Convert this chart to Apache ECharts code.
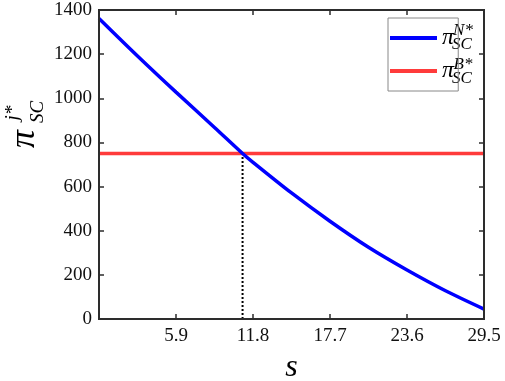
<!DOCTYPE html>
<html>
<head>
<meta charset="utf-8">
<script src="https://cdn.jsdelivr.net/npm/echarts@6/dist/echarts.min.js"></script>
<style>
  html, body { margin: 0; padding: 0; background: #fff; }
  #chart { width: 505px; height: 381px; }
</style>
</head>
<body>
<div id="chart"></div>
<script>
// s values and profit
var sValues = [0, 2.95, 5.9, 8.85, 11, 11.8, 14.75, 17.7, 20.65, 23.6, 26.55, 29.5];
var piN = [1362, 1192, 1028, 868, 750, 710, 571, 443, 325, 222, 128, 45];
var piB = 750;
var sCross = 11;
var xTickLabels = ['5.9', '11.8', '17.7', '23.6', '29.5'];
var xStep = 5.9, xMax = 29.5;
var yStep = 200, yMax = 1400;

var serif = 'Liberation Serif';
var frameColor = 'rgb(45,45,45)';
var chart = echarts.init(document.getElementById('chart'));

function line() { return { show: true, onZero: false, lineStyle: { color: frameColor, width: 2 } }; }
function tick() { return { show: true, inside: true, length: 5, lineStyle: { color: frameColor, width: 1.5 } }; }

chart.setOption({
  animation: false,
  grid: { left: 99, right: 21, top: 10, bottom: 62, containLabel: false, outerBoundsMode: 'none' },
  legend: {
    left: 388, top: 18,
    orient: 'vertical',
    padding: [8, 2, 8, 2],
    itemGap: 9,
    itemWidth: 47, itemHeight: 4,
    icon: 'rect',
    borderColor: '#888', borderWidth: 1,
    data: ['N', 'B'],
    formatter: function () { return '{p|π}{g| }'; },
    textStyle: {
      rich: {
        p: { fontFamily: serif, fontStyle: 'italic', fontSize: 24, lineHeight: 30, color: '#000' },
        g: { width: 6, fontSize: 8 }
      }
    }
  },
  xAxis: [{
    type: 'value', min: 0, max: xMax, interval: xStep,
    name: 's', nameLocation: 'middle', nameGap: 33,
    nameTextStyle: { fontFamily: serif, fontStyle: 'italic', fontSize: 32, color: '#000' },
    axisLine: line(), axisTick: tick(), splitLine: { show: false },
    axisLabel: {
      margin: 8, fontFamily: serif, fontSize: 19, color: '#111',
      formatter: function (v) { var i = Math.round(v / xStep) - 1; return i >= 0 ? xTickLabels[i] : ''; }
    }
  }, {
    type: 'value', gridIndex: 0, position: 'top', min: 0, max: xMax, interval: xStep,
    axisLine: line(), axisTick: tick(), axisLabel: { show: false }, splitLine: { show: false }
  }],
  yAxis: [{
    type: 'value', min: 0, max: yMax, interval: yStep,
    axisLine: line(), axisTick: tick(), splitLine: { show: false },
    axisLabel: { margin: 7, fontFamily: serif, fontSize: 19, color: '#111',
      formatter: function (v) { return String(v); } }
  }, {
    type: 'value', gridIndex: 0, position: 'right', min: 0, max: yMax, interval: yStep,
    axisLine: line(), axisTick: tick(), axisLabel: { show: false }, splitLine: { show: false }
  }],
  series: [{
    name: 'N', type: 'line', showSymbol: false, smooth: 0.3,
    color: '#0000ff', lineStyle: { width: 3.5 },
    data: sValues.map(function (s, i) { return [s, piN[i]]; }),
    z: 3
  }, {
    name: 'B', type: 'line', showSymbol: false,
    xAxisIndex: 1, yAxisIndex: 1,
    color: '#ff3b3b', lineStyle: { width: 3.5 },
    data: [[0, piB], [xMax, piB]],
    z: 2
  }, {
    name: 'drop', type: 'line', showSymbol: false,
    color: '#000', lineStyle: { width: 2, type: [2, 2] },
    data: [[sCross, 0], [sCross, piB]],
    z: 1
  }],
  graphic: [
    // y axis name with stacked sub/superscripts
    { type: 'text', x: 25, y: 139, rotation: Math.PI / 2,
      style: { text: 'π', font: 'italic 36px ' + serif, fill: '#000', align: 'center', verticalAlign: 'middle' } },
    { type: 'text', x: 38, y: 112, rotation: Math.PI / 2,
      style: { text: 'SC', font: 'italic 19px ' + serif, fill: '#000', align: 'center', verticalAlign: 'middle' } },
    { type: 'text', x: 13, y: 113, rotation: Math.PI / 2,
      style: { text: 'j*', font: 'italic 19px ' + serif, fill: '#000', align: 'center', verticalAlign: 'middle' } },
    // legend sub/superscripts
    { type: 'text', x: 463, y: 31,
      style: { text: 'N*', font: 'italic 17px ' + serif, fill: '#000', align: 'center', verticalAlign: 'middle' } },
    { type: 'text', x: 462, y: 45,
      style: { text: 'SC', font: 'italic 17px ' + serif, fill: '#000', align: 'center', verticalAlign: 'middle' } },
    { type: 'text', x: 463, y: 65,
      style: { text: 'B*', font: 'italic 17px ' + serif, fill: '#000', align: 'center', verticalAlign: 'middle' } },
    { type: 'text', x: 462, y: 79,
      style: { text: 'SC', font: 'italic 17px ' + serif, fill: '#000', align: 'center', verticalAlign: 'middle' } }
  ]
});

// frame around the plot, corners taken from the axes' own scale
var p0 = chart.convertToPixel({ gridIndex: 0 }, [0, yMax]);
var p1 = chart.convertToPixel({ gridIndex: 0 }, [xMax, 0]);
chart.setOption({
  graphic: [{
    id: 'frame', type: 'rect', z: 100, silent: true,
    shape: { x: p0[0], y: p0[1], width: p1[0] - p0[0], height: p1[1] - p0[1] },
    style: { fill: null, stroke: frameColor, lineWidth: 2 }
  }]
});
</script>
</body>
</html>
